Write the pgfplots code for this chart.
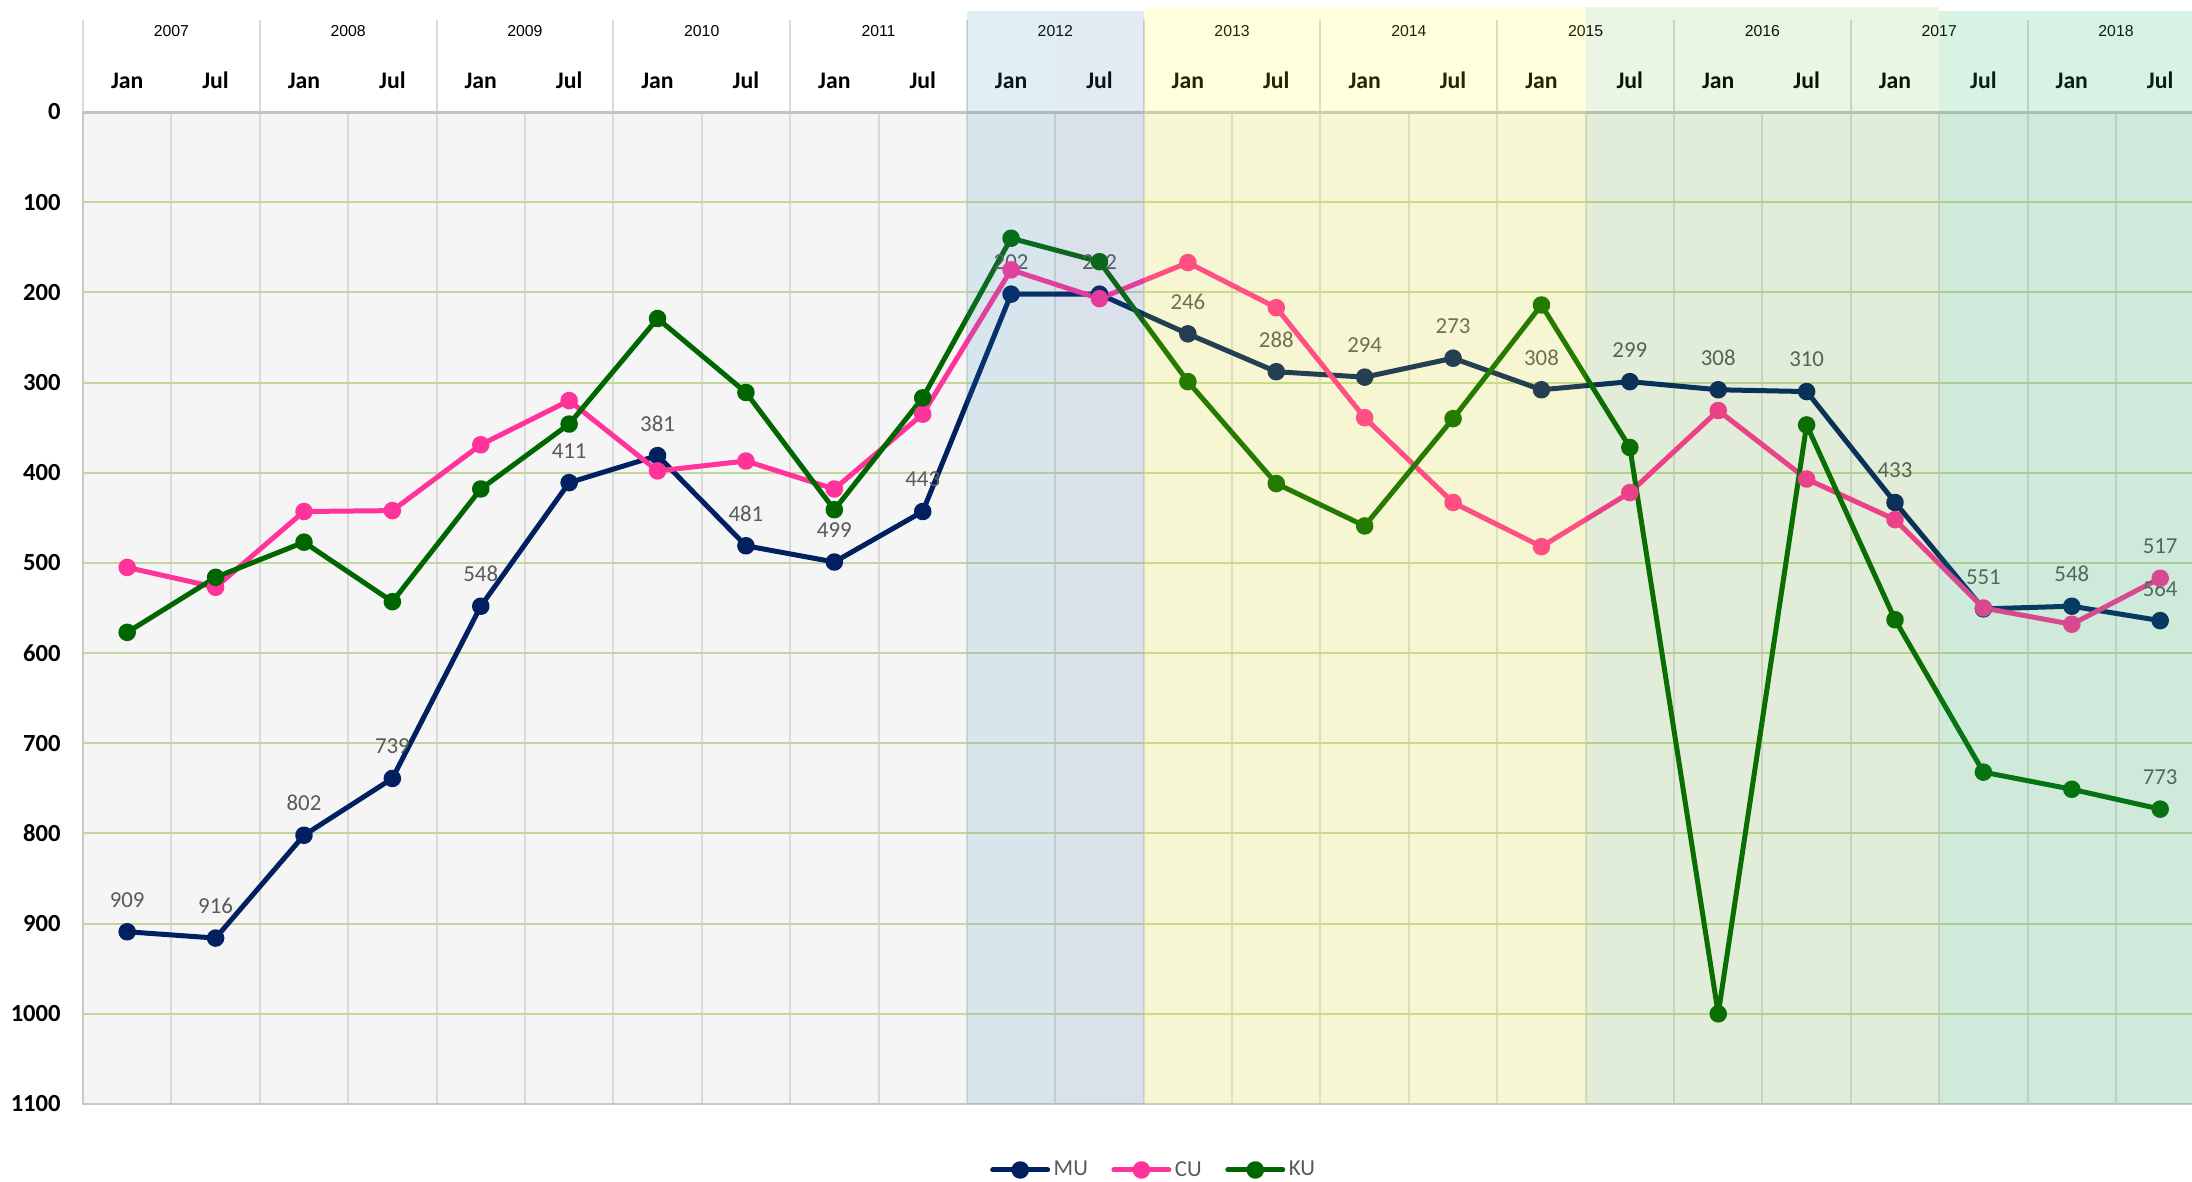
\documentclass[border=0pt]{standalone}
\usepackage{pgfplots}
\pgfplotsset{compat=1.18}
\usepackage{fontspec}
\setmainfont{Carlito}
\newfontfamily\arialf{Liberation Sans}
\definecolor{mu}{HTML}{002060}
\definecolor{cu}{HTML}{FF3399}
\definecolor{ku}{HTML}{006600}
\definecolor{gridg}{HTML}{C3D69B}
\definecolor{gridv}{HTML}{D9D9D9}
\definecolor{axln}{HTML}{C8C8C8}
\definecolor{plotbg}{HTML}{F5F5F5}
\definecolor{lbl}{HTML}{595959}
\definecolor{shA}{RGB}{48,148,188}
\definecolor{shB}{RGB}{68,115,182}
\definecolor{shY}{RGB}{255,255,0}
\definecolor{shG}{RGB}{88,172,22}
\definecolor{shM}{RGB}{38,183,105}

\begin{document}
\begin{tikzpicture}
\useasboundingbox (0,0) rectangle (438.4mm,236.4mm);
\begin{axis}[
  at={(16.6mm,15.6mm)}, anchor=south west,
  scale only axis, width=421.8mm, height=198.4mm,
  xmin=-0.5, xmax=23.36, ymin=0, ymax=1100, y dir=reverse,
  clip=false,
  axis line style={draw=none},
  axis background/.style={fill=plotbg},
  xtick={0,...,23},
  xticklabels={Jan,Jul,Jan,Jul,Jan,Jul,Jan,Jul,Jan,Jul,Jan,Jul,
               Jan,Jul,Jan,Jul,Jan,Jul,Jan,Jul,Jan,Jul,Jan,Jul},
  xticklabel pos=upper,
  minor xtick={-0.5,0.5,...,23.5},
  xminorgrids, minor x grid style={gridv, line width=0.4mm},
  ytick={0,100,...,1100},
  ymajorgrids, major y grid style={gridg, line width=0.4mm},
  major tick length=0pt, minor tick length=0pt,
  /pgf/number format/assume math mode=true,
  /pgf/number format/1000 sep={},
  yticklabel style={font=\fontsize{14}{16}\selectfont\bfseries, anchor=east, inner sep=0pt, xshift=-4.4mm},
  xticklabel style={font=\fontsize{13.5}{16}\selectfont\bfseries, anchor=base, inner sep=0pt, yshift=4.7mm},
  every node near coord/.append style={font=\fontsize{13}{15}\selectfont, text=lbl, anchor=center, yshift=6.4mm},
  legend style={draw=none, fill=none, at={(0.508,-0.0665)}, anchor=center,
    legend columns=-1, font=\fontsize{13}{15}\selectfont, text=lbl,
    /tikz/every even column/.append style={column sep=4mm}},
  legend image code/.code={\draw[mark repeat=2,mark phase=2,#1] plot coordinates {(0mm,0mm)(5.5mm,0mm)(11mm,0mm)};},
  every axis plot/.append style={line join=round, line cap=round},
]
% header: year separators and year labels
\draw[gridv, line width=0.4mm] (axis cs:-0.5,-102) -- (axis cs:-0.5,0);
\pgfplotsinvokeforeach{0,...,11}{
  \draw[gridv, line width=0.4mm] (axis cs:{2*#1+1.5},-102) -- (axis cs:{2*#1+1.5},0);
  \node[font=\arialf\fontsize{9}{10}\selectfont] at (axis cs:{2*#1+0.5},-90) {\the\numexpr2007+#1\relax};
}
% frame lines
\draw[axln, line width=0.5mm] (axis cs:-0.5,0) -- (axis cs:-0.5,1100) -- (axis cs:23.6,1100);
\draw[gridv!90!black, line width=0.6mm] (axis cs:-0.5,0) -- (axis cs:23.6,0);

\addplot[mu, line width=1mm, mark=*, mark size=1.25mm, nodes near coords, point meta=y] coordinates {
  (0,909)(1,916)(2,802)(3,739)(4,548)(5,411)(6,381)(7,481)(8,499)(9,443)(10,202)(11,202)
  (12,246)(13,288)(14,294)(15,273)(16,308)(17,299)(18,308)(19,310)(20,433)(21,551)(22,548)(23,564)};
\addlegendentry{MU}
\addplot[cu, line width=1mm, mark=*, mark size=1.25mm] coordinates {
  (0,505)(1,527)(2,443)(3,442)(4,369)(5,320)(6,398)(7,387)(8,418)(9,335)(10,175)(11,207)
  (12,167)(13,217)(14,339)(15,433)(16,482)(17,422)(18,331)(19,407)(20,452)(21,550)(22,568)(23,517)};
\addlegendentry{CU}
\addplot[ku, line width=1mm, mark=*, mark size=1.25mm] coordinates {
  (0,577)(1,516)(2,477)(3,543)(4,418)(5,346)(6,229)(7,311)(8,441)(9,317)(10,140)(11,166)
  (12,299)(13,412)(14,459)(15,340)(16,214)(17,372)(18,1000)(19,347)(20,563)(21,732)(22,751)(23,773)};
\addlegendentry{KU}
% labels on the last points of CU and KU
\addplot[draw=none, forget plot, nodes near coords, point meta=y] coordinates {(23,517)};
\addplot[draw=none, forget plot, nodes near coords, point meta=y] coordinates {(23,773)};

\coordinate (A1) at (axis cs:9.5,-112);  \coordinate (A2) at (axis cs:10.5,1100);
\coordinate (B1) at (axis cs:10.5,-112); \coordinate (B2) at (axis cs:11.5,1100);
\coordinate (Y1) at (axis cs:11.5,-115); \coordinate (Y2) at (axis cs:16.5,1100);
\coordinate (G1) at (axis cs:16.5,-116); \coordinate (G2) at (axis cs:20.5,1100);
\coordinate (M1) at (axis cs:20.5,-112); \coordinate (M2) at (axis cs:23.6,1100);
\end{axis}
% translucent period bands over everything
\fill[shA, fill opacity=0.15] (A1) rectangle (A2);
\fill[shB, fill opacity=0.15] (B1) rectangle (B2);
\fill[shY, fill opacity=0.14] (Y1) rectangle (Y2);
\fill[shG, fill opacity=0.12] (G1) rectangle (G2);
\fill[shM, fill opacity=0.18] (M1) rectangle (M2);
\end{tikzpicture}
\end{document}
